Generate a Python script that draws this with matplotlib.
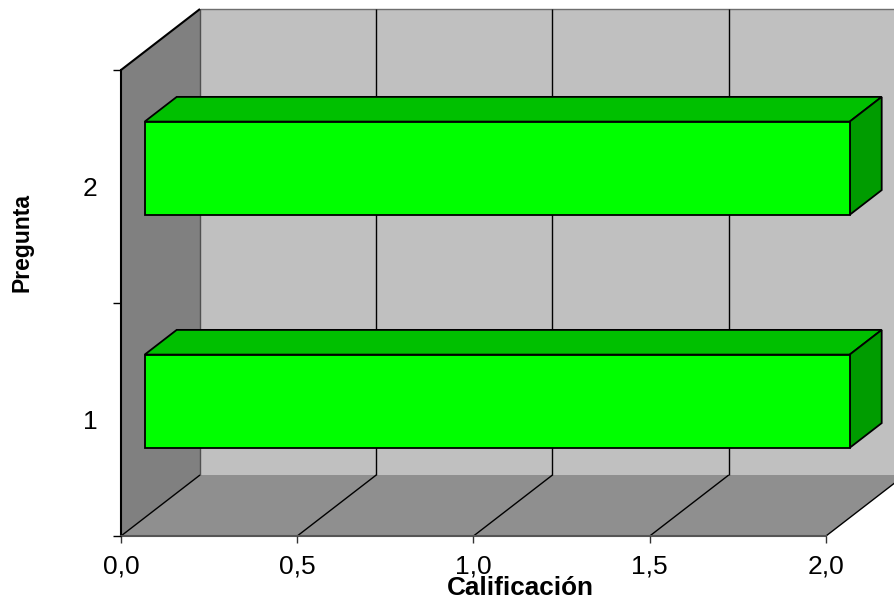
import matplotlib
matplotlib.use("Agg")
import matplotlib.pyplot as plt
from matplotlib.patches import Polygon
from matplotlib.ticker import FuncFormatter, FixedLocator

plt.rcParams["font.family"] = ["Liberation Sans", "DejaVu Sans"]

# data
preguntas = [1, 2]
calificacion = [2.0, 2.0]
x_ticks = [0.0, 0.5, 1.0, 1.5, 2.0]
x_label = "Calificación"
y_label = "Pregunta"

# 3d look: depth offset of the back wall, in data units
X_MAX = 2.0
Y_MIN, Y_MAX = 0.5, 2.5
DX = 79 * X_MAX / 705
DY = 61 * (Y_MAX - Y_MIN) / 466
BAR_FRONT, BAR_BACK = 0.30, 0.705
BAR_H = 0.4

WALL = "#c0c0c0"
SIDE_WALL = "#808080"
FLOOR = "#8f8f8f"
GREEN_FRONT = "#00ff00"
GREEN_TOP = "#00c000"
GREEN_SIDE = "#009c00"

W, H = 895, 602
fig = plt.figure(figsize=(W / 100, H / 100), dpi=100)
ax = fig.add_axes([121 / W, (H - 536) / H, 705 / W, 466 / H])
ax.set_xlim(0, X_MAX)
ax.set_ylim(Y_MIN, Y_MAX)
ax.patch.set_visible(False)


def poly(pts, fc, ec="none", lw=0.0, z=1):
    p = Polygon(pts, closed=True, facecolor=fc, edgecolor=ec, linewidth=lw,
                clip_on=False, zorder=z, joinstyle="miter")
    ax.add_patch(p)


def seg(p0, p1, color="black", lw=1.0, z=2):
    ax.plot([p0[0], p1[0]], [p0[1], p1[1]], color=color, lw=lw,
            clip_on=False, zorder=z, solid_capstyle="butt")


# walls and floor
poly([(DX, Y_MIN + DY), (X_MAX + DX, Y_MIN + DY), (X_MAX + DX, Y_MAX + DY),
      (DX, Y_MAX + DY)], WALL, z=0.5)
poly([(0, Y_MIN), (DX, Y_MIN + DY), (DX, Y_MAX + DY), (0, Y_MAX)], SIDE_WALL, z=0.6)
poly([(0, Y_MIN), (X_MAX, Y_MIN), (X_MAX + DX, Y_MIN + DY), (DX, Y_MIN + DY)], FLOOR, z=0.6)

seg((DX, Y_MAX + DY), (X_MAX + DX, Y_MAX + DY), color="#6e6e6e", lw=1.0, z=0.8)
seg((DX, Y_MIN + DY), (DX, Y_MAX + DY), color="#505050", lw=1.0, z=0.8)
seg((0, Y_MAX), (DX, Y_MAX + DY), color="black", lw=1.5, z=0.9)
seg((0, Y_MIN), (DX, Y_MIN + DY), color="black", lw=1.0, z=0.9)

# gridlines on the back wall and across the floor
for xv in x_ticks[1:]:
    seg((xv + DX, Y_MIN + DY), (xv + DX, Y_MAX + DY), color="black", lw=1.0, z=0.8)
    seg((xv, Y_MIN), (xv + DX, Y_MIN + DY), color="black", lw=1.0, z=0.8)

# bars
for cat, val in zip(preguntas, calificacion):
    fx, fy = BAR_FRONT * DX, BAR_FRONT * DY
    bx, by = BAR_BACK * DX, BAR_BACK * DY
    lo, hi = cat - BAR_H / 2, cat + BAR_H / 2
    poly([(fx, hi + fy), (val + fx, hi + fy), (val + bx, hi + by), (bx, hi + by)],
         GREEN_TOP, ec="black", lw=1.3, z=3)
    poly([(val + fx, lo + fy), (val + bx, lo + by), (val + bx, hi + by), (val + fx, hi + fy)],
         GREEN_SIDE, ec="black", lw=1.3, z=3)
    poly([(fx, lo + fy), (val + fx, lo + fy), (val + fx, hi + fy), (fx, hi + fy)],
         GREEN_FRONT, ec="black", lw=1.3, z=4)

# axes
for s in ("top", "right"):
    ax.spines[s].set_visible(False)
ax.spines["left"].set_color("black")
ax.spines["left"].set_linewidth(1.5)
ax.spines["bottom"].set_color("#555555")
ax.spines["bottom"].set_linewidth(1.5)
ax.spines["left"].set_zorder(1)
ax.spines["bottom"].set_zorder(1)

ax.xaxis.set_major_locator(FixedLocator(x_ticks))
ax.xaxis.set_major_formatter(FuncFormatter(lambda v, _: f"{v:.1f}".replace(".", ",")))
ax.tick_params(axis="x", direction="out", length=5, width=1, color="#333333",
               labelsize=19, pad=8)

ax.yaxis.set_major_locator(FixedLocator(preguntas))
ax.yaxis.set_minor_locator(FixedLocator([0.5, 1.5, 2.5]))
ax.tick_params(axis="y", which="major", length=0, labelsize=19, pad=17)
ax.tick_params(axis="y", which="minor", direction="out", length=6, width=1, color="black")

ax.set_xlabel(x_label, fontsize=18.8, fontweight="bold")
ax.xaxis.label.set_va("center")
ax.xaxis.set_label_coords((520 - 121) / 705, (536 - 588) / 466)
ax.set_ylabel(y_label, fontsize=16.5, fontweight="bold")
ax.yaxis.label.set_va("center")
ax.yaxis.set_label_coords((22 - 121) / 705, (536 - 243) / 466)

fig.savefig("out.png", dpi=100)
